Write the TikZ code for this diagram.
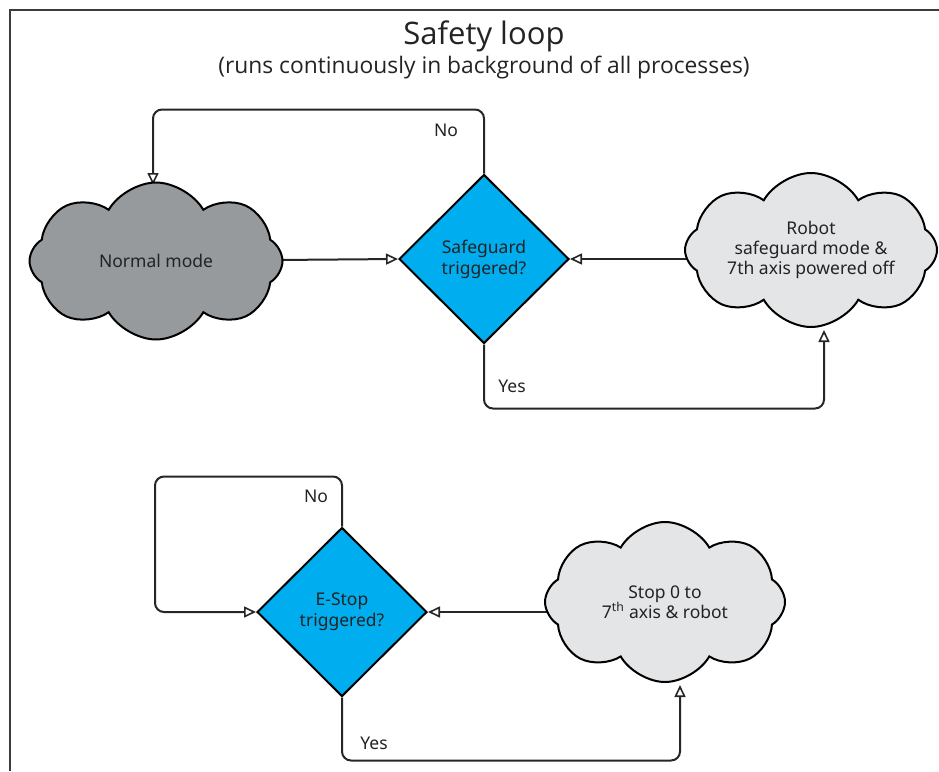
\documentclass[tikz,border=0pt]{standalone}
\usepackage{fontspec}
\setmainfont{Noto Sans}
\newfontfamily\titlefont{Open Sans}
\usetikzlibrary{shapes.geometric,shapes.symbols,arrows.meta,backgrounds}
\definecolor{decblue}{RGB}{0,174,239}
\definecolor{darkcloud}{RGB}{150,154,157}
\definecolor{lightcloud}{RGB}{228,229,230}
\definecolor{txt}{RGB}{35,35,35}
\definecolor{framec}{RGB}{60,60,60}
\begin{document}
\begin{tikzpicture}[x=1pt,y=-1pt,
  decision/.style={diamond, draw=black, line width=2pt, fill=decblue,
    minimum width=170pt, minimum height=169pt, inner sep=0pt, align=center,
    font=\fontsize{17.5}{21}\selectfont, text=txt},
  cloudbox/.style={cloud, cloud puffs=8, cloud puff arc=120, cloud ignores aspect,
    draw=black, line width=2pt, align=center, inner sep=0pt,
    font=\fontsize{17.5}{20}\selectfont, text=txt},
  link/.style={draw=black!85, line width=2pt, rounded corners=9pt},
  arr/.style={-{Triangle[open,length=12pt,width=11pt,line width=1.6pt]}},
  lbl/.style={font=\fontsize{17.5}{20}\selectfont, text=txt}
]
\useasboundingbox (0,0) rectangle (939,771);
\draw[framec, line width=2pt] (10,771) -- (10,10) -- (939,10);

\node[font=\titlefont\fontsize{31}{34}\selectfont, text=txt] (title) at (484,36) {Safety loop};
\node[font=\titlefont\fontsize{22.8}{26}\selectfont, text=txt] (subtitle) at (484,68) {(runs continuously in background of all processes)};

% top loop
\node[cloudbox, fill=darkcloud, minimum width=253pt, minimum height=157pt] (nm) at (156,261) {Normal mode};
\node[decision] (d1) at (484,259) {Safeguard\\triggered?};
\node[cloudbox, fill=lightcloud, minimum width=252pt, minimum height=154pt] (rb) at (811,250) {Robot\\safeguard mode \&\\7th axis powered off};
\coordinate (nmin) at (153,185);
\coordinate (rbin) at (824,330);

% bottom loop
\node[decision] (d2) at (342,612) {E-Stop\\triggered?};
\node[cloudbox, fill=lightcloud, minimum width=240pt, minimum height=160pt] (st) at (665,602) {Stop 0 to\\7\textsuperscript{th} axis \& robot};
\coordinate (stin) at (680,685);

\begin{pgfonlayer}{background}
\draw[link,arr] (nm.center) -- (d1.west);
\draw[link,arr] (rb.center |- d1.west) -- (d1.east);
\draw[link,arr] (d1.north) -- ++(0,-64) -| (nmin);
\draw[link,arr] (d1.south) -- ++(0,64) -| (rbin);
\draw[link,arr] (st.center |- d2.east) -- (d2.east);
\draw[link,arr] (d2.north) -- ++(0,-50) -- ++(-187,0) |- (d2.west);
\draw[link,arr] (d2.south) -- ++(0,63) -| (stin);
\end{pgfonlayer}

\node[lbl] (no1) at (446,130) {No};
\node[lbl] (yes1) at (512,386) {Yes};
\node[lbl] (no2) at (316,496) {No};
\node[lbl] (yes2) at (374,743) {Yes};
\end{tikzpicture}
\end{document}
